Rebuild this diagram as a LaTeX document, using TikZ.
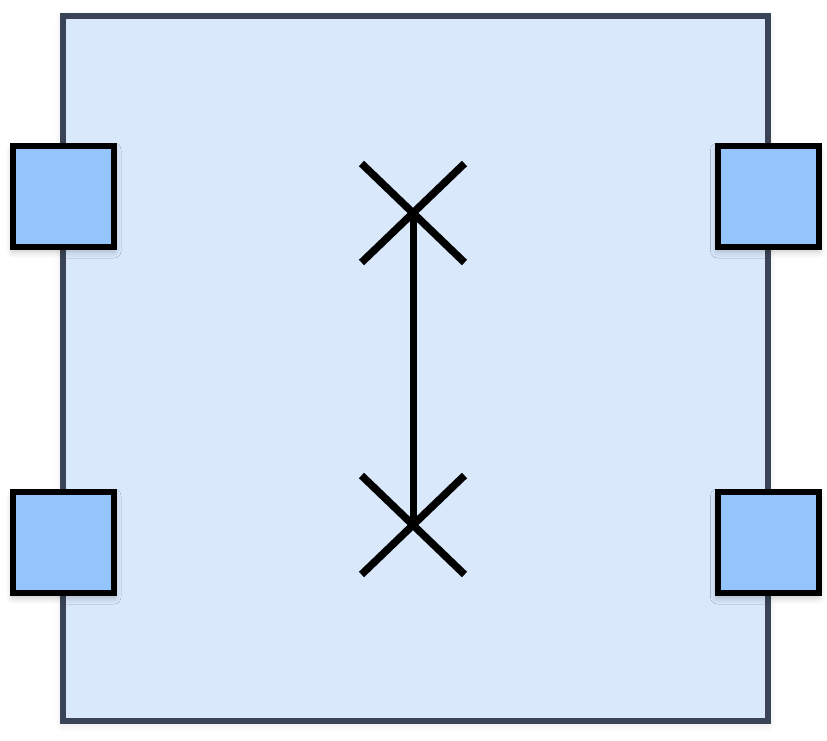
\documentclass[tikz,border=0pt]{standalone}
\usepackage{tikz}
\usetikzlibrary{shapes.misc,shadows.blur}
\definecolor{boxfill}{RGB}{218,232,252}
\definecolor{boxline}{RGB}{58,68,86}
\definecolor{portfill}{RGB}{147,197,252}

\begin{document}
\begin{tikzpicture}[x=1pt,y=-1pt,line cap=butt,line join=miter,
		block/.style={draw=boxline,fill=boxfill,line width=6pt,minimum width=705pt,minimum height=704pt,inner sep=0pt,
			blur shadow={shadow xshift=0pt,shadow yshift=-3pt,shadow blur radius=9pt,shadow blur steps=12,shadow opacity=12}},
		port/.style={draw=black,fill=portfill,line width=6pt,minimum size=101pt,inner sep=0pt,
			blur shadow={shadow xshift=0pt,shadow yshift=-4pt,shadow blur radius=7pt,shadow blur steps=12,shadow opacity=25}},
		xmark/.style={cross out,draw=black,line width=7.5pt,minimum width=103pt,minimum height=99pt,inner sep=0pt,outer sep=0pt}]
		\useasboundingbox (0,0) rectangle (827,741);
		\node [block] (box) at (415.5,368.5) {};
		\node [port] (p1) at (63.5,196.5) {};
		\node [port] (p2) at (63.5,542.5) {};
		\node [port] (p3) at (768,196.5) {};
		\node [port] (p4) at (768,542.5) {};
		\node [xmark] (xa) at (413,213) {};
		\node [xmark] (xb) at (413,525) {};
		\draw [line width=7pt] (xa.center) -- (xb.center);
	\end{tikzpicture}
\end{document}
